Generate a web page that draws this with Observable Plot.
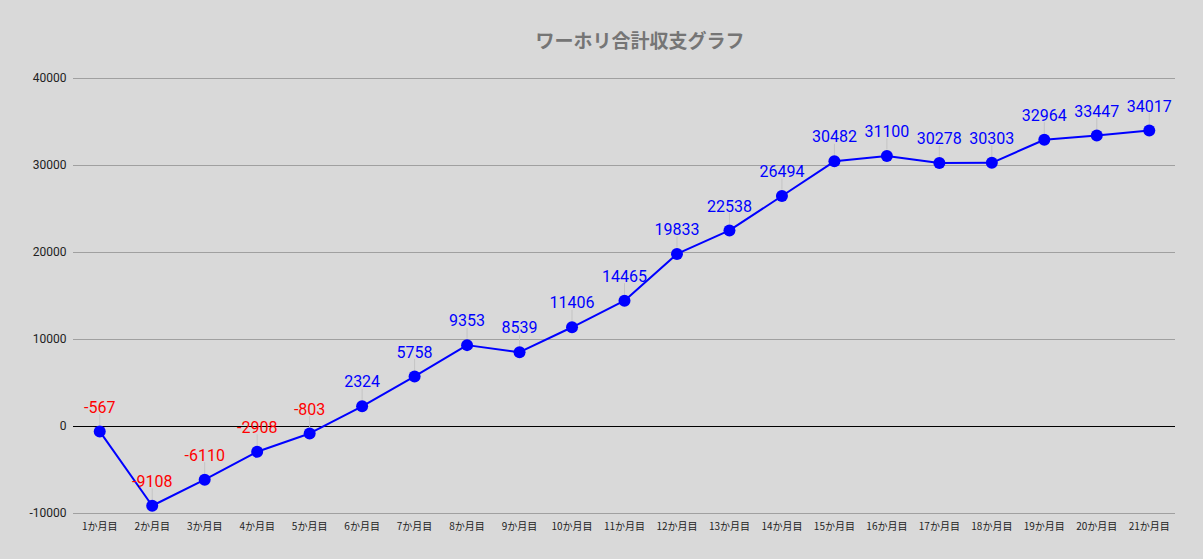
<!DOCTYPE html>
<html>
<head>
<meta charset="utf-8">
<script src="https://cdn.jsdelivr.net/npm/d3@7"></script>
<script src="https://cdn.jsdelivr.net/npm/@observablehq/plot@0.6"></script>
<style>
  html, body { margin: 0; padding: 0; background: #d9d9d9; }
  #wrap { position: relative; width: 1203px; height: 559px; }
  #title { position: absolute; left: 0; width: 1280px; top: 26px; text-align: center;
    font: bold 19px "Noto Sans CJK JP", Roboto, sans-serif; color: #757575; }
  svg { display: block; }
</style>
</head>
<body>
<div id="wrap"><div id="title">ワーホリ合計収支グラフ</div></div>
<script>
const months = ["1か月目","2か月目","3か月目","4か月目","5か月目","6か月目","7か月目","8か月目","9か月目","10か月目","11か月目","12か月目","13か月目","14か月目","15か月目","16か月目","17か月目","18か月目","19か月目","20か月目","21か月目"];
const totals = [-567,-9108,-6110,-2908,-803,2324,5758,9353,8539,11406,14465,19833,22538,26494,30482,31100,30278,30303,32964,33447,34017];
const yTicks = [-10000,0,10000,20000,30000,40000];

const data = months.map((m, i) => ({m, v: totals[i]}));

const chart = Plot.plot({
  width: 1203,
  height: 559,
  marginLeft: 73,
  marginRight: 28,
  marginTop: 78,
  marginBottom: 46,
  style: {background: "transparent", fontFamily: "Roboto, sans-serif"},
  x: {domain: months, type: "point", padding: 0.5, round: false, label: null, tickSize: 0},
  y: {domain: [-10000, 40000], ticks: yTicks, label: null, tickSize: 0, tickFormat: d => String(d)},
  marks: [
    Plot.gridY(yTicks.filter(d => d !== 0), {stroke: "#a0a0a0", strokeOpacity: 1, strokeWidth: 1}),
    Plot.ruleY([0], {stroke: "#000", strokeWidth: 1}),
    Plot.axisY({ticks: yTicks, tickSize: 0, tickPadding: 7, fontSize: 12, fill: "#222", tickFormat: d => String(d), label: null}),
    Plot.axisX({tickSize: 0, tickPadding: 9, fontSize: 10, fill: "#222", fontFamily: "Noto Sans CJK JP", label: null}),
    Plot.ruleX(data, {x: "m", y1: "v", y2: "v", insetTop: -17, insetBottom: 6, stroke: "#c4c4c4", strokeWidth: 1}),
    Plot.line(data, {x: "m", y: "v", stroke: "#0000ff", strokeWidth: 2}),
    Plot.dot(data, {x: "m", y: "v", r: 6, fill: "#0000ff", stroke: "none"}),
    Plot.text(data, {x: "m", y: "v", text: d => String(d.v), dy: -24, fontSize: 16,
      fill: d => d.v < 0 ? "#ff0000" : "#0000ff", fontFamily: "Roboto, sans-serif"})
  ]
});
document.getElementById("wrap").prepend(chart);
</script>
</body>
</html>
